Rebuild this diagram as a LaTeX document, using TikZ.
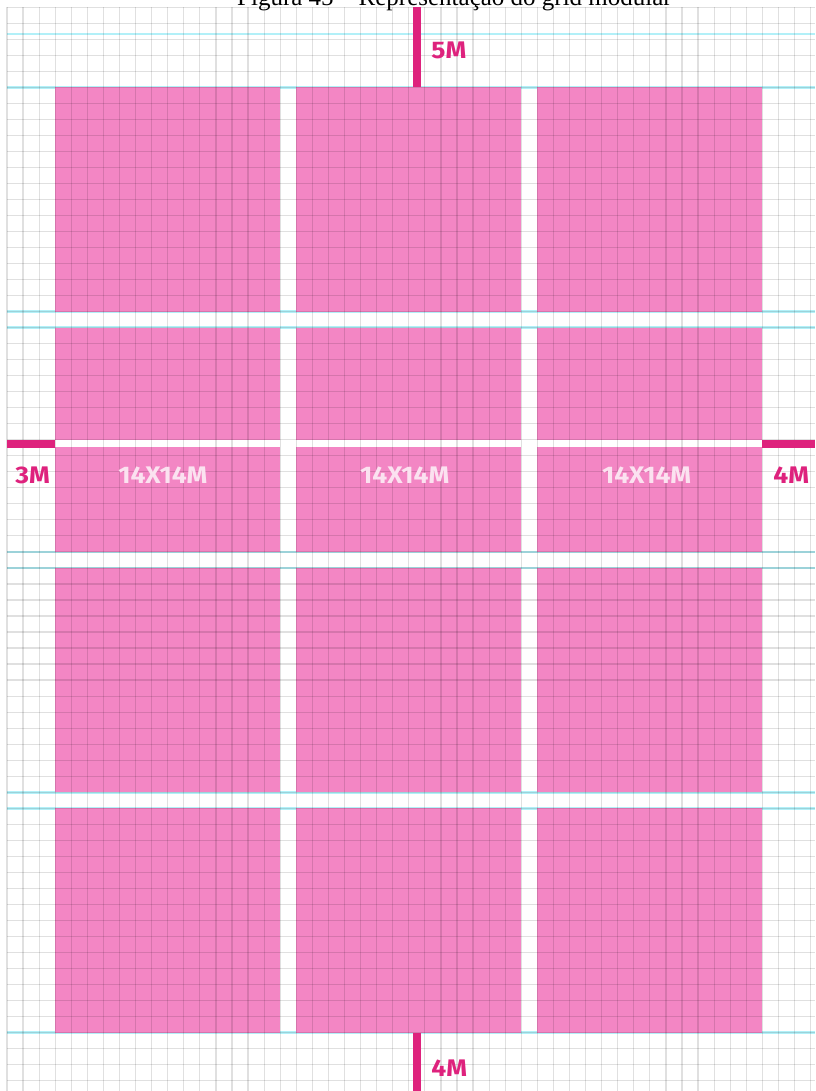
\documentclass[tikz,border=0pt]{standalone}
\usepackage{fontspec}
\setmainfont{Liberation Serif}
\newfontfamily\rotulofont[FakeStretch=1.1]{Fira Sans}
\usetikzlibrary{positioning}
\definecolor{mrosa}{RGB}{243,134,196}
\definecolor{mmagenta}{RGB}{222,34,125}
\definecolor{mciano}{RGB}{178,240,248}
\definecolor{mclaro}{RGB}{251,226,240}

\begin{document}
\begin{tikzpicture}[
  x=16.07pt, y=-16.02pt,
  bloco/.style={fill=mrosa},
  grade/.style={black,opacity=0.12,line width=1.2pt},
  guia/.style={mciano,line width=2.8pt},
  marca/.style={mmagenta,line width=7.5pt},
  faixa/.style={white,line width=7pt},
  rotulo/.style={font=\rotulofont\bfseries\fontsize{24}{24}\selectfont,
                 text=mmagenta,inner sep=0pt},
  medida/.style={rotulo,text=mclaro}
]
\useasboundingbox (-0.4356,-0.4494) rectangle (50.28,67.65);
\fill[white] (-0.4356,-0.4494) rectangle (50.28,67.65);

% linhas guia
\foreach \k in {1.67,5,19,20,34,35,49,50,64}
  \draw[guia] (0,\k) -- (50.28,\k);

% 3 colunas x 4 linhas de 14M
\foreach \i in {0,1,2}
  \foreach \j in {0,1,2,3}
    \fill[bloco] ({3+15*\i},{5+15*\j}) rectangle ++(14,14);
\draw[faixa] (3,27.25) -- (47,27.25);

% grade modular
\foreach \k in {0,...,50}
  \draw[grade] (\k,0) -- (\k,67.65);
\foreach \k in {0,...,67}
  \draw[grade] (0,\k) -- (50.28,\k);

% margens
\coordinate (topoA) at (25.5,0);
\coordinate (topoB) at (25.5,5);
\coordinate (baseA) at (25.5,64);
\coordinate (baseB) at (25.5,67.65);
\coordinate (esqA)  at (0,27.25);
\coordinate (esqB)  at (3,27.25);
\coordinate (dirA)  at (47,27.25);
\coordinate (dirB)  at (50.28,27.25);
\draw[marca] (topoA) -- (topoB);
\draw[marca] (baseA) -- (baseB);
\draw[marca] (esqA) -- (esqB);
\draw[marca] (dirA) -- (dirB);

\node[rotulo,anchor=west] (mtopo) at (26.4,2.7)  {5M};
\node[rotulo,anchor=west] (mbase) at (26.4,66.2) {4M};
\node[rotulo] (mesq) at (1.59,29.2)  {3M};
\node[rotulo] (mdir) at (48.8,29.2)  {4M};

\node[medida] (col1) at (9.7,29.2)  {14X14M};
\node[medida] (col2) at (24.75,29.2) {14X14M};
\node[medida] (col3) at (39.8,29.2) {14X14M};

\node[anchor=base west,inner sep=0pt,font=\fontsize{25}{30}\selectfont]
  (legenda) at (14.31,-0.106) {Figura 45 – Representação do grid modular};
\end{tikzpicture}
\end{document}
